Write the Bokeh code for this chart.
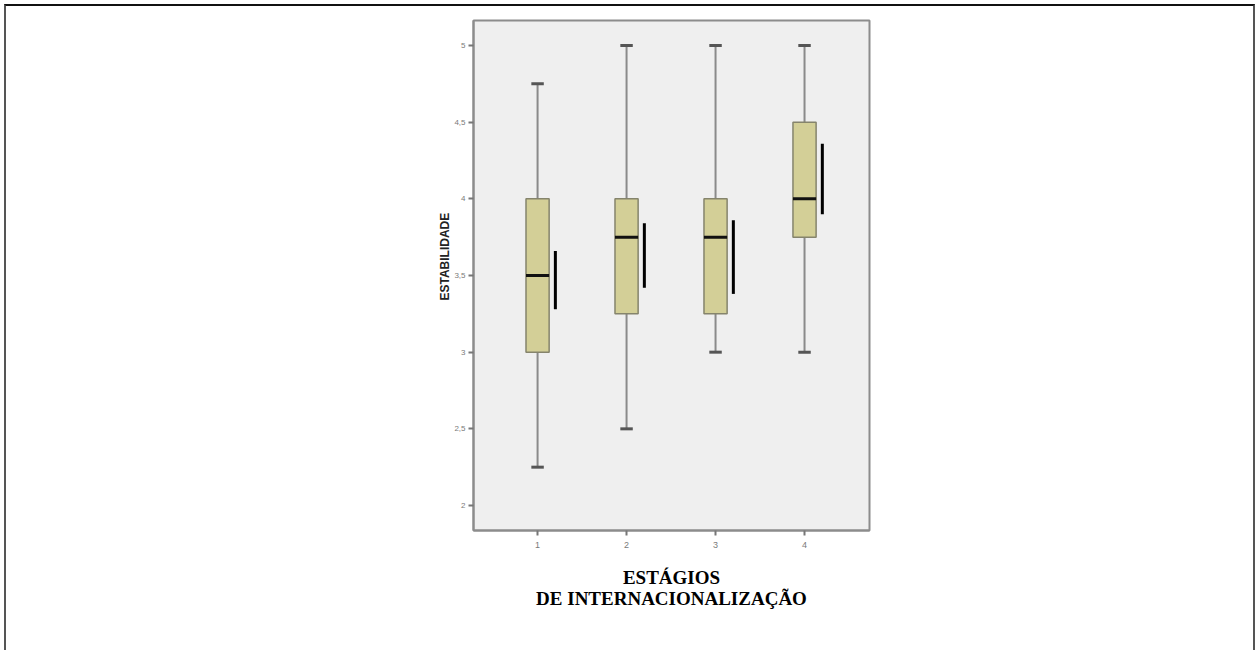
from bokeh.plotting import figure
from bokeh.models import FixedTicker, Range1d, Title
from bokeh.embed import file_html
from bokeh.resources import INLINE

# Data
stages = [1, 2, 3, 4]
stage_labels = ["1", "2", "3", "4"]
whisker_low = [2.25, 2.5, 3.0, 3.0]
q1 = [3.0, 3.25, 3.25, 3.75]
median = [3.5, 3.75, 3.75, 4.0]
q3 = [4.0, 4.0, 4.0, 4.5]
whisker_high = [4.75, 5.0, 5.0, 5.0]
ci_low = [3.28, 3.42, 3.38, 3.90]
ci_high = [3.66, 3.84, 3.86, 4.36]
y_ticks = [2, 2.5, 3, 3.5, 4, 4.5, 5]
y_tick_labels = ["2", "2,5", "3", "3,5", "4", "4,5", "5"]

BOX_W = 0.26
CAP_W = 0.14
CI_OFF = 0.2

p = figure(frame_width=396, frame_height=510,
           min_border_left=467, min_border_right=384,
           min_border_top=14, min_border_bottom=120,
           x_range=Range1d(0.28, 4.73), y_range=Range1d(1.837, 5.163),
           output_backend="svg", toolbar_location=None, tools="")

p.styles = {"margin-left": "4px", "margin-top": "4px",
            "border-top": "2px solid #111111",
            "border-left": "2px solid #555555",
            "border-right": "2px solid #555555"}

p.background_fill_color = "#efefef"
p.border_fill_color = "white"
p.outline_line_color = "#8c8c8c"
p.outline_line_width = 2
p.xgrid.visible = False
p.ygrid.visible = False

# whiskers
p.segment(x0=stages, y0=q3, x1=stages, y1=whisker_high, line_color="#8a8a8a", line_width=2)
p.segment(x0=stages, y0=whisker_low, x1=stages, y1=q1, line_color="#8a8a8a", line_width=2)
# caps
p.segment(x0=[s - CAP_W / 2 for s in stages], y0=whisker_high,
          x1=[s + CAP_W / 2 for s in stages], y1=whisker_high, line_color="#555555", line_width=3)
p.segment(x0=[s - CAP_W / 2 for s in stages], y0=whisker_low,
          x1=[s + CAP_W / 2 for s in stages], y1=whisker_low, line_color="#555555", line_width=3)
# boxes
p.vbar(x=stages, width=BOX_W, bottom=q1, top=q3, fill_color="#d3cf97",
       line_color="#85846c", line_width=1.5)
# medians
p.segment(x0=[s - BOX_W / 2 for s in stages], y0=median,
          x1=[s + BOX_W / 2 for s in stages], y1=median, line_color="#111111", line_width=3)
# confidence lines
p.segment(x0=[s + CI_OFF for s in stages], y0=ci_low,
          x1=[s + CI_OFF for s in stages], y1=ci_high, line_color="black", line_width=3)

# axes
p.xaxis.ticker = FixedTicker(ticks=stages)
p.xaxis.major_label_overrides = {s: l for s, l in zip(stages, stage_labels)}
p.yaxis.ticker = FixedTicker(ticks=y_ticks)
p.yaxis.major_label_overrides = {t: l for t, l in zip(y_ticks, y_tick_labels)}
for ax in (p.xaxis[0], p.yaxis[0]):
    ax.axis_line_color = "#8c8c8c"
    ax.axis_line_width = 2
    ax.major_tick_line_color = "#777777"
    ax.major_tick_line_width = 2
    ax.major_tick_out = 5
    ax.major_tick_in = 0
    ax.minor_tick_line_color = None
    ax.major_label_text_font = "Liberation Sans"
    ax.major_label_text_font_size = "8px"
    ax.major_label_text_color = "#7a7a7a"
    ax.major_label_standoff = 3
p.xaxis.major_label_text_font_size = "9px"
p.xaxis.major_label_standoff = 6

# y-axis title (placed above the frame centre, as in the reference)
ytitle = Title(text="ESTABILIDADE", align="left", offset=230, standoff=0,
               text_font="Liberation Sans", text_font_style="bold",
               text_font_size="12px", text_color="#222222")
p.add_layout(ytitle, "left")

p.xaxis.axis_label = "ESTÁGIOS\nDE INTERNACIONALIZAÇÃO"
p.xaxis.axis_label_text_font = "Liberation Serif"
p.xaxis.axis_label_text_font_style = "bold"
p.xaxis.axis_label_text_font_size = "19px"
p.xaxis.axis_label_text_line_height = 1.0
p.xaxis.axis_label_text_color = "black"
p.xaxis.axis_label_standoff = 16

open("out.html", "w").write(file_html(p, INLINE))
